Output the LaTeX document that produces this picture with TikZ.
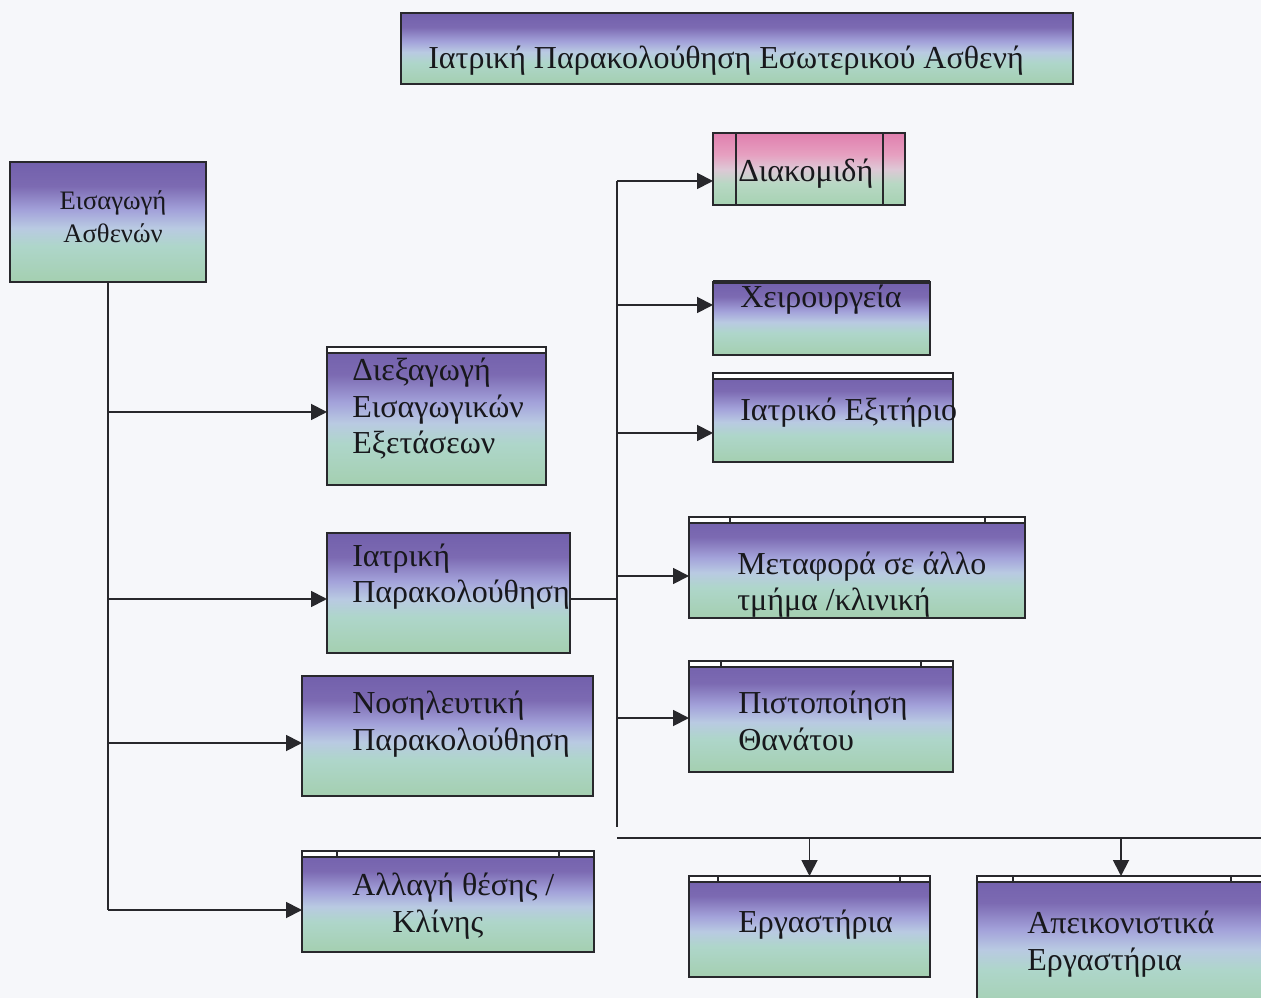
\documentclass[tikz,border=0pt]{standalone}
\usepackage{fontspec}
\setmainfont{Liberation Serif}
\usetikzlibrary{arrows.meta,calc,fit}

\definecolor{paper}{RGB}{246,247,250}
\definecolor{edge}{RGB}{40,40,44}
\definecolor{ink}{RGB}{24,24,28}
% purple -> lavender -> mint fill
\definecolor{gA}{RGB}{164,207,176}
\definecolor{gB}{RGB}{174,214,202}
\definecolor{gC}{RGB}{185,202,226}
\definecolor{gD}{RGB}{163,162,218}
\definecolor{gE}{RGB}{124,106,178}
\definecolor{gF}{RGB}{114,96,172}
% pink -> mint fill
\definecolor{pA}{RGB}{166,210,178}
\definecolor{pB}{RGB}{184,216,196}
\definecolor{pC}{RGB}{222,200,214}
\definecolor{pD}{RGB}{230,160,192}
\definecolor{pE}{RGB}{224,127,174}

\pgfdeclareverticalshading{purplemint}{100bp}{color(0bp)=(gA); color(25bp)=(gA);
  color(40bp)=(gB); color(47.5bp)=(gC); color(55bp)=(gD); color(65bp)=(gE);
  color(75bp)=(gF); color(100bp)=(gF)}
\pgfdeclareverticalshading{pinkmint}{100bp}{color(0bp)=(pA); color(25bp)=(pA);
  color(40bp)=(pB); color(50bp)=(pC); color(60bp)=(pD); color(75bp)=(pE);
  color(100bp)=(pE)}

\tikzset{
  gbox/.style={draw=edge, line width=1.1pt, inner sep=0pt, outer sep=0pt,
    shade, shading=purplemint},
  pbox/.style={gbox, shading=pinkmint},
  lbl/.style={text=ink, font=\fontsize{24}{27}\selectfont, inner sep=0pt,
    anchor=base west},
  small/.style={lbl, font=\fontsize{20}{23}\selectfont, anchor=base},
  wire/.style={draw=edge, line width=1.4pt},
  arr/.style={wire, -{Triangle[length=12pt,width=12pt]}},
  thin/.style={draw=edge, line width=1.1pt},
}

% white band along the top edge of a box
\newcommand\topband[1]{%
  \draw[thin, fill=white] (#1.north west) rectangle ($(#1.north east)+(0,6)$);}
% short divider inside the top band
\newcommand\bandtick[2]{%
  \draw[thin] (#2,0 |- #1.north) -- ++(0,6);}

\begin{document}
\begin{tikzpicture}[x=0.75pt,y=-0.75pt]
\fill[paper] (0,0) rectangle (1261,998);
\useasboundingbox (0,0) rectangle (1261,998);

% ---- boxes ----
\node[gbox, fit={(401,13)(1073,84)}] (title) {};
\node[gbox, fit={(10,162)(206,282)}] (adm) {};
\node[gbox, fit={(327,347)(546,485)}] (exam) {};
\node[gbox, fit={(327,533)(570,653)}] (monit) {};
\node[gbox, fit={(302,676)(593,796)}] (nurse) {};
\node[gbox, fit={(302,851)(594,952)}] (chg) {};
\node[pbox, fit={(713,133)(905,205)}] (trans) {};
\node[gbox, fit={(713,282)(930,355)}] (surg) {};
\node[gbox, fit={(713,373)(953,462)}] (disc) {};
\node[gbox, fit={(689,517)(1025,618)}] (move) {};
\node[gbox, fit={(689,661)(953,772)}] (death) {};
\node[gbox, fit={(689,876)(930,977)}] (lab) {};
\node[gbox, fit={(977,876)(1265,1010)}] (img) {};

% ---- box decorations ----
\topband{exam}
\topband{disc}
\topband{move}  \bandtick{move}{730}  \bandtick{move}{985}
\topband{death} \bandtick{death}{721} \bandtick{death}{921}
\topband{chg}   \bandtick{chg}{337}   \bandtick{chg}{559}
\topband{lab}   \bandtick{lab}{718}   \bandtick{lab}{900}
\topband{img}   \bandtick{img}{1013}  \bandtick{img}{1231}
\draw[thin, line width=3pt] (surg.north west) -- (surg.north east);
\draw[thin] (736,0 |- trans.north) -- (736,0 |- trans.south);
\draw[thin] (883,0 |- trans.north) -- (883,0 |- trans.south);

% ---- labels ----
\node[lbl] (title-t) at (428,69) {Ιατρική Παρακολούθηση Εσωτερικού Ασθενή};
\node[small] (adm-t1) at (113,210) {Εισαγωγή};
\node[small] (adm-t2) at (113,243) {Ασθενών};
\node[lbl] (exam-t1) at (352,381) {Διεξαγωγή};
\node[lbl] (exam-t2) at (352,418) {Εισαγωγικών};
\node[lbl] (exam-t3) at (352,454) {Εξετάσεων};
\node[lbl] (monit-t1) at (352,566) {Ιατρική};
\node[lbl] (monit-t2) at (352,602) {Παρακολούθηση};
\node[lbl] (nurse-t1) at (352,713) {Νοσηλευτική};
\node[lbl] (nurse-t2) at (352,750) {Παρακολούθηση};
\node[lbl] (chg-t1) at (352,895) {Αλλαγή θέσης /};
\node[lbl] (chg-t2) at (392,932) {Κλίνης};
\node[lbl] (trans-t) at (738,182) {Διακομιδή};
\node[lbl] (surg-t) at (740,308) {Χειρουργεία};
\node[lbl] (disc-t) at (740,421) {Ιατρικό Εξιτήριο};
\node[lbl] (move-t1) at (737,575) {Μεταφορά σε άλλο};
\node[lbl] (move-t2) at (737,610) {τμήμα /κλινική};
\node[lbl] (death-t1) at (738,713) {Πιστοποίηση};
\node[lbl] (death-t2) at (738,750) {Θανάτου};
\node[lbl] (lab-t) at (738,932) {Εργαστήρια};
\node[lbl] (img-t1) at (1027,933) {Απεικονιστικά};
\node[lbl] (img-t2) at (1027,970) {Εργαστήρια};

% ---- left trunk ----
\coordinate (l1) at (108,412);
\coordinate (l2) at (108,599);
\coordinate (l3) at (108,743);
\coordinate (l4) at (108,910);
\draw[wire] (adm.south) -- (l4);
\draw[arr] (l1) -- (exam.west |- l1);
\draw[arr] (l2) -- (monit.west |- l2);
\draw[arr] (l3) -- (nurse.west |- l3);
\draw[arr] (l4) -- (chg.west |- l4);

% ---- right trunk ----
\coordinate (hub) at (617,599);
\coordinate (r0) at (617,181);
\coordinate (r1) at (617,305);
\coordinate (r2) at (617,433);
\coordinate (r3) at (617,576);
\coordinate (r4) at (617,718);
\coordinate (rend) at (617,827);
\draw[wire] (monit.east |- hub) -- (hub);
\draw[wire] (r0) -- (rend);
\draw[arr] (r0) -- (trans.west |- r0);
\draw[arr] (r1) -- (surg.west |- r1);
\draw[arr] (r2) -- (disc.west |- r2);
\draw[arr] (r3) -- (move.west |- r3);
\draw[arr] (r4) -- (death.west |- r4);

% ---- bottom bus ----
\coordinate (b0) at (617,838);
\coordinate (b1) at (1270,838);
\draw[wire] (b0) -- (b1);
\draw[arr] (lab.north |- b0) -- (lab.north);
\draw[arr] (img.north |- b0) -- (img.north);
\end{tikzpicture}
\end{document}
